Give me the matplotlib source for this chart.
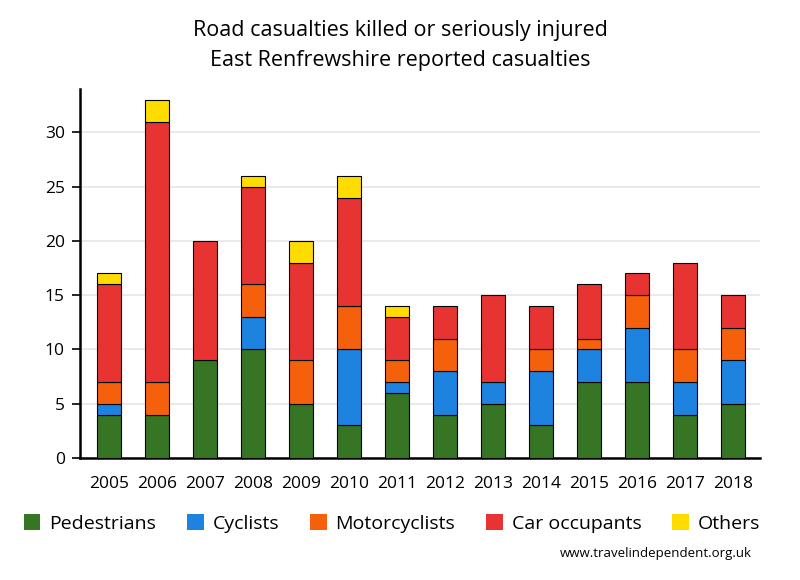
import numpy as np
import matplotlib.pyplot as plt
from matplotlib.patches import Patch

years = ['2005', '2006', '2007', '2008', '2009', '2010', '2011',
         '2012', '2013', '2014', '2015', '2016', '2017', '2018']
pedestrians = [4, 4, 9, 10, 5, 3, 6, 4, 5, 3, 7, 7, 4, 5]
cyclists = [1, 0, 0, 3, 0, 7, 1, 4, 2, 5, 3, 5, 3, 4]
motorcyclists = [2, 3, 0, 3, 4, 4, 2, 3, 0, 2, 1, 3, 3, 3]
car_occupants = [9, 24, 11, 9, 9, 10, 4, 3, 8, 4, 5, 2, 8, 3]
others = [1, 2, 0, 1, 2, 2, 1, 0, 0, 0, 0, 0, 0, 0]

series = [('Pedestrians', pedestrians, '#367524'),
          ('Cyclists', cyclists, '#1e82e0'),
          ('Motorcyclists', motorcyclists, '#f5600c'),
          ('Car occupants', car_occupants, '#e83333'),
          ('Others', others, '#ffdc00')]

plt.rcParams['font.family'] = ['Open Sans', 'DejaVu Sans']

fig = plt.figure(figsize=(8, 5.8), dpi=100)
ax = fig.add_axes([0.1, 0.2103, 0.85, 0.6363])

x = np.arange(len(years))
bottom = np.zeros(len(years))
for name, vals, col in series:
    vals = np.array(vals)
    mask = vals > 0
    ax.bar(x[mask], vals[mask], 0.5, bottom=bottom[mask], color=col,
           edgecolor='black', linewidth=0.8, zorder=3)
    bottom += vals

ax.set_xlim(-0.6, len(years) - 1 + 0.56)
ax.set_ylim(0, 34)
ax.set_yticks([0, 5, 10, 15, 20, 25, 30])
ax.set_xticks(x)
ax.set_xticklabels(years)
ax.grid(axis='y', color='#e6e6e6', linewidth=1.2, zorder=0)
for s in ['top', 'right']:
    ax.spines[s].set_visible(False)
for s in ['left', 'bottom']:
    ax.spines[s].set_linewidth(1.8)
ax.tick_params(axis='x', length=0, pad=13, labelsize=12.5)
ax.tick_params(axis='y', length=6, width=1.2, labelsize=12.5, pad=5)

fig.text(0.5, 0.948, 'Road casualties killed or seriously injured',
         ha='center', va='center', fontsize=15.5)
fig.text(0.5, 0.895, 'East Renfrewshire reported casualties',
         ha='center', va='center', fontsize=15.5)

handles = [Patch(facecolor=c, edgecolor='none') for _, _, c in series]
fig.legend(handles, [n for n, _, _ in series], loc='center',
           bbox_to_anchor=(0.49, 0.097), ncol=5, frameon=False, fontsize=14,
           handlelength=0.85, handleheight=0.85, handletextpad=0.45,
           columnspacing=1.6)

fig.text(0.94, 0.045, 'www.travelindependent.org.uk', ha='right',
         va='center', fontsize=9.5)

fig.savefig('out.png', dpi=100)
